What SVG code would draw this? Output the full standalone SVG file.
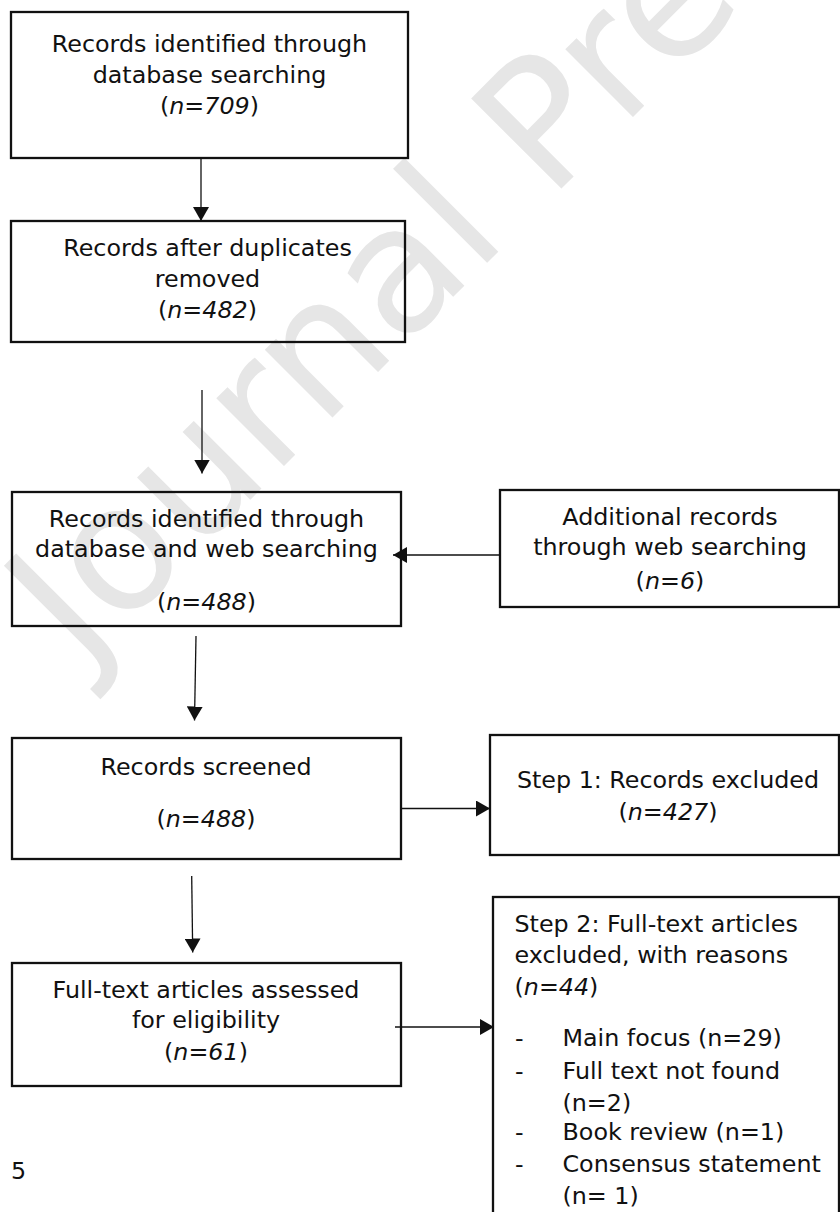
<svg xmlns="http://www.w3.org/2000/svg" width="840" height="1212" viewBox="0 0 840 1212">
<defs>
<style>
.box{fill:none;stroke:#111;stroke-width:2.3}
.t{font-family:"DejaVu Sans",Verdana,sans-serif;font-size:23.8px;fill:#111}
.c{text-anchor:middle}
.i{font-style:italic}
.con{stroke:#111;stroke-width:1.3;fill:none;marker-end:url(#ah)}
.wm{font-family:"DejaVu Sans",Verdana,sans-serif;font-size:175px;fill:#e6e6e6}
</style>
<marker id="ah" markerUnits="userSpaceOnUse" markerWidth="15" markerHeight="16" refX="14" refY="8" orient="auto">
<path d="M0,0 L14,8 L0,16 z" fill="#111"/>
</marker>
</defs>
<rect width="840" height="1212" fill="#fff"/>
<text class="wm" transform="translate(82,668) rotate(-45)">Journal Pre-proof</text>

<g id="n1">
<rect class="box" x="11" y="12" width="397" height="146"/>
<text class="t c" x="209.5" y="52">Records identified through</text>
<text class="t c" x="209.5" y="82.5">database searching</text>
<text class="t c" x="209.5" y="113.5">(<tspan class="i">n=709</tspan>)</text>
</g>
<g id="n2">
<rect class="box" x="11" y="221" width="394" height="121"/>
<text class="t c" x="207.5" y="256">Records after duplicates</text>
<text class="t c" x="207.5" y="287">removed</text>
<text class="t c" x="207.5" y="318">(<tspan class="i">n=482</tspan>)</text>
</g>
<g id="n3">
<rect class="box" x="12" y="492" width="389" height="134"/>
<text class="t c" x="206.5" y="527">Records identified through</text>
<text class="t c" x="206.5" y="557">database and web searching</text>
<text class="t c" x="206.5" y="610">(<tspan class="i">n=488</tspan>)</text>
</g>
<g id="n4">
<rect class="box" x="500" y="490" width="339" height="117"/>
<text class="t c" x="670" y="524.5">Additional records</text>
<text class="t c" x="670" y="555">through web searching</text>
<text class="t c" x="670" y="588.5">(<tspan class="i">n=6</tspan>)</text>
</g>
<g id="n5">
<rect class="box" x="12" y="738" width="389" height="121"/>
<text class="t c" x="206" y="775">Records screened</text>
<text class="t c" x="206" y="826.5">(<tspan class="i">n=488</tspan>)</text>
</g>
<g id="n6">
<rect class="box" x="12" y="963" width="389" height="123"/>
<text class="t c" x="206" y="997.5">Full-text articles assessed</text>
<text class="t c" x="206" y="1028">for eligibility</text>
<text class="t c" x="206" y="1060">(<tspan class="i">n=61</tspan>)</text>
</g>
<g id="n7">
<rect class="box" x="490" y="735" width="349" height="120"/>
<text class="t c" x="668" y="787.5">Step 1: Records excluded</text>
<text class="t c" x="668" y="820">(<tspan class="i">n=427</tspan>)</text>
</g>
<g id="n8">
<rect class="box" x="493" y="897" width="346" height="330"/>
<text class="t" x="514.5" y="931.5">Step 2: Full-text articles</text>
<text class="t" x="514.5" y="962.5">excluded, with reasons</text>
<text class="t" x="514.5" y="994.5">(<tspan class="i">n=44</tspan>)</text>
<text class="t" x="515" y="1046">-</text><text class="t" x="562.5" y="1046">Main focus (n=29)</text>
<text class="t" x="515" y="1078.5">-</text><text class="t" x="562.5" y="1078.5">Full text not found</text>
<text class="t" x="562.5" y="1111">(n=2)</text>
<text class="t" x="515" y="1140">-</text><text class="t" x="562.5" y="1140">Book review (n=1)</text>
<text class="t" x="515" y="1172">-</text><text class="t" x="562.5" y="1172">Consensus statement</text>
<text class="t" x="562.5" y="1203.5">(n= 1)</text>
</g>
<text class="t" x="11" y="1178.5">5</text>

<g id="connectors">
<line class="con" x1="201" y1="158" x2="201" y2="221"/>
<line class="con" x1="202" y1="390" x2="202" y2="473.5"/>
<line class="con" x1="196" y1="636" x2="194.5" y2="720.5"/>
<line class="con" x1="191.7" y1="876" x2="192.7" y2="952.5"/>
<line class="con" x1="500" y1="555" x2="393" y2="555"/>
<line class="con" x1="401" y1="808.5" x2="490" y2="808.5"/>
<line class="con" x1="395" y1="1027" x2="494" y2="1027"/>
</g>
</svg>
